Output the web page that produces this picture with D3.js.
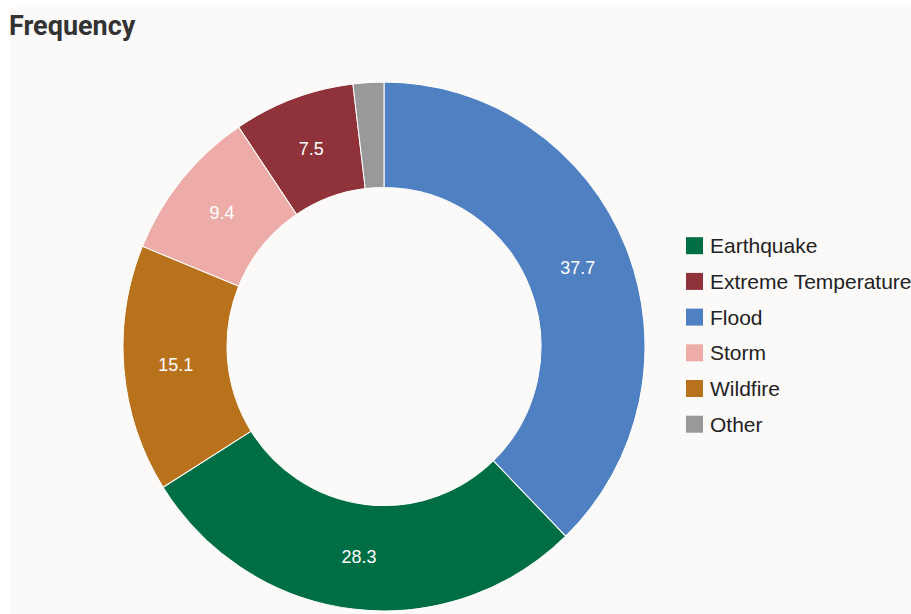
<!DOCTYPE html>
<html>
<head>
<meta charset="utf-8">
<script src="https://cdn.jsdelivr.net/npm/d3@7"></script>
<style>
  body { margin: 0; background: #ffffff; }
  svg { display: block; }
</style>
</head>
<body>
<div id="chart"></div>
<script>
// legend order (alphabetical, Other last)
const categories = ["Earthquake", "Extreme Temperature", "Flood", "Storm", "Wildfire", "Other"];
const values     = [28.3, 7.5, 37.7, 9.4, 15.1, 1.9];   // percent of events
const colours    = ["#006e44", "#8f3239", "#4f80c2", "#eeaca8", "#b9721c", "#999999"];

const width = 911, height = 614;

const svg = d3.select("#chart")
    .append("svg")
    .attr("width", width)
    .attr("height", height);

// panel background
svg.append("rect")
    .attr("x", 10).attr("y", 7)
    .attr("width", width - 10).attr("height", height - 7)
    .attr("fill", "#fcfaf9");

svg.append("text")
    .attr("x", 9).attr("y", 35)
    .attr("font-family", "Roboto, 'Liberation Sans', sans-serif")
    .attr("font-weight", 700)
    .attr("font-size", 27)
    .attr("fill", "#333333")
    .text("Frequency");

const data = categories.map((c, i) => ({ name: c, value: values[i], colour: colours[i] }));

const outerR = 261, innerR = 157;

const pie = d3.pie()
    .value(d => d.value)
    .sort((a, b) => b.value - a.value);   // biggest first, clockwise from 12 o'clock

const arc = d3.arc().innerRadius(innerR).outerRadius(outerR);
const labelArc = d3.arc().innerRadius((innerR + outerR) / 2).outerRadius((innerR + outerR) / 2);

// the reference is very slightly taller than wide
const g = svg.append("g")
    .attr("transform", "translate(384,346.5) scale(1,1.013)");

const slices = pie(data);

g.selectAll("path")
    .data(slices)
    .join("path")
        .attr("d", arc)
        .attr("fill", d => d.data.colour)
        .attr("stroke", "#ffffff")
        .attr("stroke-width", 1);

g.selectAll("text")
    .data(slices.filter(d => d.data.value > 5))   // tiny slices get no label
    .join("text")
        .attr("transform", d => "translate(" + labelArc.centroid(d) + ")")
        .attr("text-anchor", "middle")
        .attr("dy", "0.36em")
        .attr("font-family", "Arial, 'Liberation Sans', sans-serif")
        .attr("font-size", 18)
        .attr("fill", "#ffffff")
        .text(d => d.data.value.toFixed(1));

// legend
const legend = svg.append("g").attr("transform", "translate(686,0)");

const rowY = d3.scaleLinear().domain([0, 1]).range([245.7, 281.4]);

const rows = legend.selectAll("g")
    .data(data)
    .join("g")
        .attr("transform", (d, i) => "translate(0," + rowY(i) + ")");

rows.append("rect")
    .attr("x", 0).attr("y", -8.5)
    .attr("width", 17).attr("height", 17)
    .attr("fill", d => d.colour);

rows.append("text")
    .attr("x", 24)
    .attr("dy", "0.36em")
    .attr("font-family", "Arial, 'Liberation Sans', sans-serif")
    .attr("font-size", 21)
    .attr("fill", "#222222")
    .text(d => d.name);
</script>
</body>
</html>
